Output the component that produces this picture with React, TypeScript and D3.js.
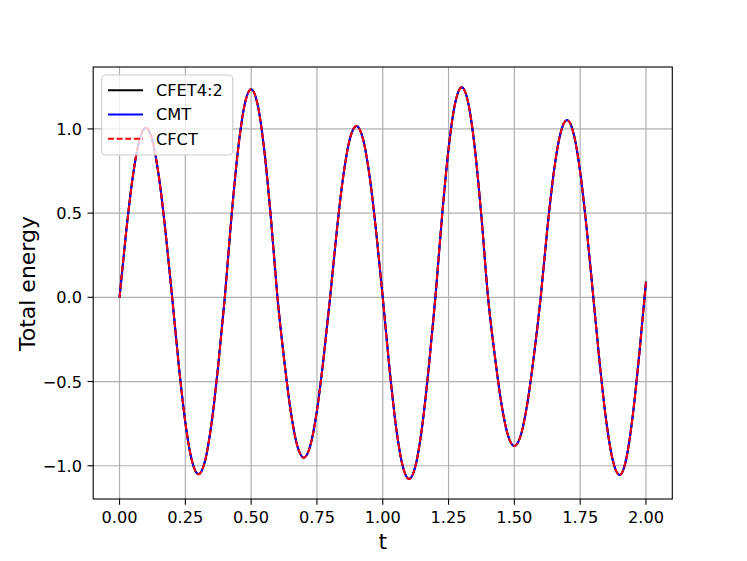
import React from "react";
import * as d3 from "d3";

const T: number[] = [
  0, 0.025, 0.05, 0.075, 0.1, 0.125, 0.15, 0.175, 0.2, 0.225, 0.25, 0.275, 0.3, 0.325, 0.35, 0.375,
  0.4, 0.425, 0.45, 0.475, 0.5, 0.525, 0.55, 0.575, 0.6, 0.625, 0.65, 0.675, 0.7, 0.725, 0.75, 0.775,
  0.8, 0.825, 0.85, 0.875, 0.9, 0.925, 0.95, 0.975, 1.0, 1.025, 1.05, 1.075, 1.1, 1.125, 1.15, 1.175,
  1.2, 1.225, 1.25, 1.275, 1.3, 1.325, 1.35, 1.375, 1.4, 1.425, 1.45, 1.475, 1.5, 1.525, 1.55, 1.575,
  1.6, 1.625, 1.65, 1.675, 1.7, 1.725, 1.75, 1.775, 1.8, 1.825, 1.85, 1.875, 1.9, 1.925, 1.95, 1.975, 2.0,
];

const ENERGY: number[] = [
  0, 0.385, 0.712, 0.93, 1.007, 0.93, 0.712, 0.385, 0, -0.402, -0.743, -0.971, -1.051, -0.971, -0.743, -0.402,
  0, 0.473, 0.873, 1.141, 1.235, 1.141, 0.873, 0.473, 0, -0.364, -0.673, -0.88, -0.952, -0.88, -0.673, -0.364,
  0, 0.389, 0.719, 0.94, 1.017, 0.94, 0.719, 0.389, 0, -0.413, -0.763, -0.997, -1.079, -0.997, -0.763, -0.413,
  0, 0.477, 0.882, 1.152, 1.247, 1.152, 0.882, 0.477, 0, -0.338, -0.624, -0.816, -0.883, -0.816, -0.624, -0.338,
  0, 0.403, 0.745, 0.973, 1.053, 0.973, 0.745, 0.403, 0, -0.404, -0.746, -0.975, -1.055, -0.96, -0.7, -0.33, 0.093,
];

const SERIES_NAMES: string[] = ["CFET4:2", "CMT", "CFCT"];
const SERIES_COLORS: string[] = ["#000000", "#0000ff", "#ff0000"];
const SERIES_DASH: string[] = ["none", "none", "6,2.6"];

const X_TICKS: number[] = [0, 0.25, 0.5, 0.75, 1.0, 1.25, 1.5, 1.75, 2.0];
const Y_TICKS: number[] = [-1.0, -0.5, 0.0, 0.5, 1.0];

const W = 747;
const H = 561;
const left = 93.2;
const right = 672.3;
const top = 67;
const bottom = 499;

export default function App() {
  const x = d3.scaleLinear().domain([-0.1, 2.1]).range([left, right]);
  const y = d3.scaleLinear().domain([-1.1975, 1.3676]).range([bottom, top]);
  const pts: [number, number][] = T.map((t, i) => [t, ENERGY[i]]);
  const line = d3
    .line<[number, number]>()
    .x((d) => x(d[0]))
    .y((d) => y(d[1]))
    .curve(d3.curveMonotoneX);
  const path = line(pts) || "";
  const font = "DejaVu Sans, sans-serif";
  const tickLen = 5.7;
  const fmtY = (v: number) => (v < 0 ? "\u2212" + Math.abs(v).toFixed(1) : v.toFixed(1));

  return (
    <svg width={W} height={H} style={{ position: "absolute", left: 0, top: 0 }} fontFamily={font}>
      <rect x={0} y={0} width={W} height={H} fill="#ffffff" />
      <defs>
        <clipPath id="plotclip">
          <rect x={left} y={top} width={right - left} height={bottom - top} />
        </clipPath>
      </defs>
      {X_TICKS.map((t) => (
        <line key={"gx" + t} x1={x(t)} x2={x(t)} y1={top} y2={bottom} stroke="#b0b0b0" strokeWidth={1.2} />
      ))}
      {Y_TICKS.map((v) => (
        <line key={"gy" + v} x1={left} x2={right} y1={y(v)} y2={y(v)} stroke="#b0b0b0" strokeWidth={1.2} />
      ))}
      <g clipPath="url(#plotclip)">
        {SERIES_NAMES.map((n, i) => (
          <path
            key={n}
            d={path}
            fill="none"
            stroke={SERIES_COLORS[i]}
            strokeWidth={2}
            strokeDasharray={SERIES_DASH[i]}
            strokeLinejoin="round"
          />
        ))}
      </g>
      <rect x={left} y={top} width={right - left} height={bottom - top} fill="none" stroke="#000" strokeWidth={1.1} />
      {X_TICKS.map((t) => (
        <g key={"xt" + t}>
          <line x1={x(t)} x2={x(t)} y1={bottom} y2={bottom + tickLen} stroke="#000" strokeWidth={1.1} />
          <text x={x(t)} y={bottom + tickLen + 17.8} textAnchor="middle" fontSize={16.2} fill="#000">
            {t.toFixed(2)}
          </text>
        </g>
      ))}
      {Y_TICKS.map((v) => (
        <g key={"yt" + v}>
          <line x1={left - tickLen} x2={left} y1={y(v)} y2={y(v)} stroke="#000" strokeWidth={1.1} />
          <text x={left - tickLen - 5.5} y={y(v) + 6} textAnchor="end" fontSize={16.2} fill="#000">
            {fmtY(v)}
          </text>
        </g>
      ))}
      <text x={(left + right) / 2} y={549} textAnchor="middle" fontSize={22} fill="#000">
        t
      </text>
      <text
        transform={`translate(35,${(top + bottom) / 2 + 0.5}) rotate(-90)`}
        textAnchor="middle"
        fontSize={22}
        fill="#000"
      >
        Total energy
      </text>
      <rect x={101.7} y={75} width={131} height={80} rx={4} ry={4} fill="#ffffff" fillOpacity={0.8} stroke="#cccccc" strokeWidth={1.1} />
      {SERIES_NAMES.map((n, i) => {
        const cy = 90.3 + i * 24.2;
        return (
          <g key={"lg" + n}>
            <line x1={108} x2={143} y1={cy} y2={cy} stroke={SERIES_COLORS[i]} strokeWidth={2} strokeDasharray={SERIES_DASH[i]} />
            <text x={156} y={cy + 5.9} fontSize={16.2} fill="#000">
              {n}
            </text>
          </g>
        );
      })}
    </svg>
  );
}
